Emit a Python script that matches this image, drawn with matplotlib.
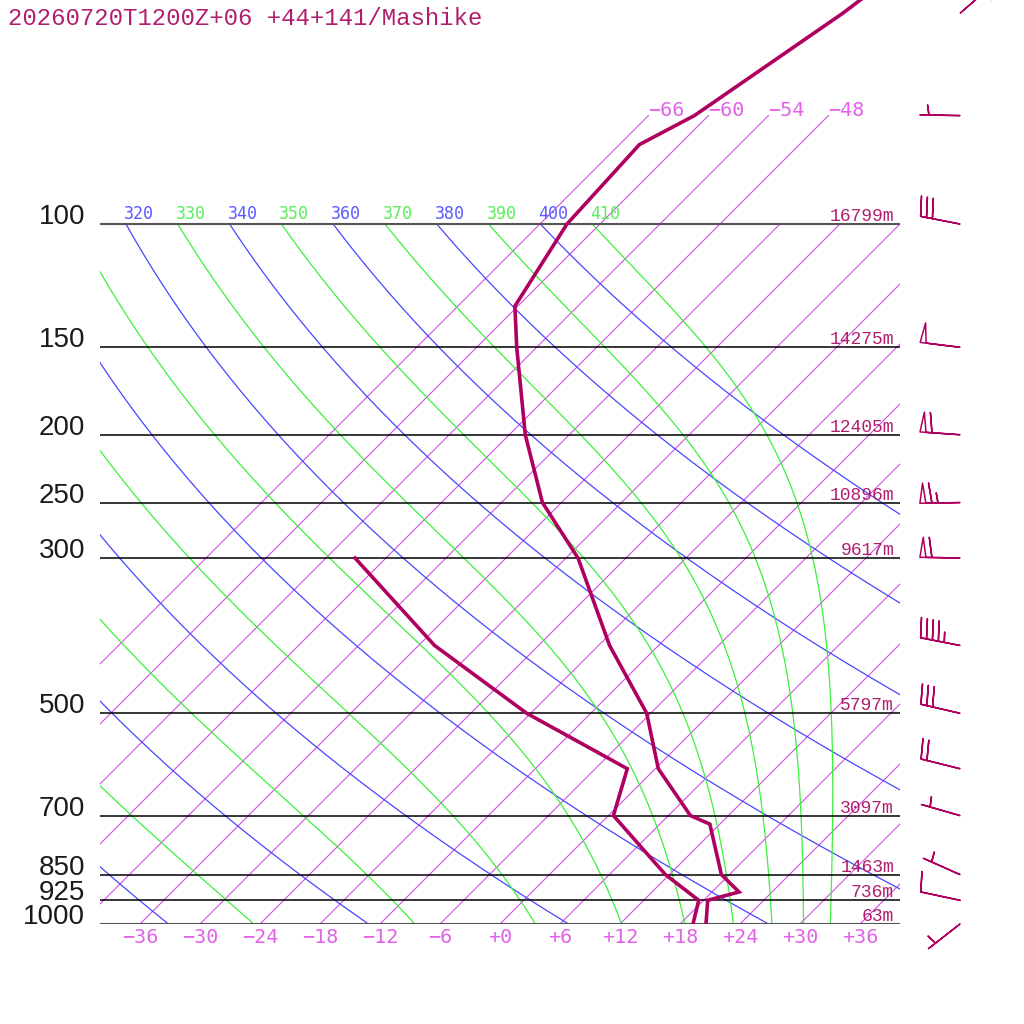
import numpy as np
import matplotlib
matplotlib.use("Agg")
import matplotlib.pyplot as plt
import matplotlib.transforms as mtransforms

# ---------------- data ----------------
title = "20260720T1200Z+06 +44+141/Mashike"

p_temp = [1000, 925, 900, 850, 720, 700, 600, 500, 400, 300, 250, 200, 150, 131, 100, 77, 70, 50, 30]
temp = [20.6, 18.4, 20.7, 17.2, 11.0, 8.2, 0.3, -6.4, -16.9, -28.8, -37.9, -46.4, -56.0, -60.3,
        -63.3, -64.0, -61.4, -56.8, -51.8]

p_dew = [1000, 925, 850, 700, 600, 500, 400, 300]
dew = [19.3, 17.5, 11.6, 0.5, -2.8, -18.4, -34.4, -51.1]

p_levels = [1000, 925, 850, 700, 500, 300, 250, 200, 150, 100]
heights = [63, 736, 1463, 3097, 5797, 9617, 10896, 12405, 14275, 16799]

p_wind = [1000, 925, 850, 700, 600, 500, 400, 300, 250, 200, 150, 100, 70, 50]
wind_dir = [232, 282, 294, 286, 284, 283, 281, 271, 269, 274, 277, 281, 271, 49]
wind_spd = [5, 10, 5, 5, 20, 30, 45, 60, 65, 60, 50, 30, 5, 5]

isotherms = list(range(-66, 37, 6))
isotherms_upper = [-66, -60, -54, -48]
bottom_ticks = list(range(-36, 37, 6))
dry_thetas = list(range(240, 401, 20))
moist_thetas = list(range(250, 411, 20))
labelled_dry = [320, 340, 360, 380, 400]
labelled_moist = [310, 330, 350, 370, 390, 410]

# ---------------- style ----------------
C_SOUND = "#b0005f"
C_TEXT = "#b01e6e"
C_ISO = "#d24ee2"
C_ISO_LBL = "#e262ea"
C_DRY = "#4747ff"
C_DRY_LBL = "#5a5aff"
C_MOIST = "#3cf03c"
C_MOIST_LBL = "#5aee5a"

SKEW = 30.4          # degC shift per unit ln(p)
P0 = 1000.0
KAPPA = 0.2857


def skx(T, p):
    return np.asarray(T, float) + SKEW * np.log(P0 / np.asarray(p, float))


fig = plt.figure(figsize=(10.24, 10.24), dpi=100)
ax = fig.add_axes([100 / 1024, 100 / 1024, 800 / 1024, 924 / 1024])
ax.set_yscale("log")
ptop = P0 * np.exp(-924 / 304)
ax.set_ylim(P0, ptop)
ax.set_xlim(-40, 40)
ax.axis("off")

# isotherms
for T in isotherms:
    pt = 70 if T in isotherms_upper else 100
    ax.plot(skx([T, T], [P0, pt]), [P0, pt], color=C_ISO, lw=0.8)
for T in isotherms_upper:
    ax.text(skx(T, 70), 70, f"{T:d}".replace("-", "\u2212"), color=C_ISO_LBL,
            family="DejaVu Sans Mono", fontsize=14.5, ha="left", va="baseline")

# dry adiabats
pgrid = np.exp(np.linspace(np.log(100), np.log(1000), 200))
for th in dry_thetas:
    T = th * (pgrid / P0) ** KAPPA - 273.15
    ax.plot(skx(T, pgrid), pgrid, color=C_DRY, lw=0.9)

# moist (pseudo) adiabats, integrated downward from 100 hPa
Rd, cp, Lv, eps = 287.04, 1005.7, 2.501e6, 0.622


def es(Tk):
    Tc = Tk - 273.15
    return 6.112 * np.exp(17.67 * Tc / (Tc + 243.5))


def dT_dlnp(Tk, p):
    e = es(Tk)
    r = eps * e / (p - e)
    return (Rd * Tk + Lv * r) / (cp + Lv ** 2 * r * eps / (Rd * Tk ** 2))


th_m = np.array(moist_thetas, float)
Tk = th_m * (100 / P0) ** KAPPA
Tm = [Tk.copy()]
lp = np.log(pgrid)
for i in range(len(pgrid) - 1):
    h = lp[i + 1] - lp[i]
    a, b = lp[i], lp[i] + h / 2
    k1 = dT_dlnp(Tk, np.exp(a))
    k2 = dT_dlnp(Tk + h / 2 * k1, np.exp(b))
    k3 = dT_dlnp(Tk + h / 2 * k2, np.exp(b))
    k4 = dT_dlnp(Tk + h * k3, np.exp(lp[i + 1]))
    Tk = Tk + h / 6 * (k1 + 2 * k2 + 2 * k3 + k4)
    Tm.append(Tk.copy())
Tm = np.array(Tm) - 273.15
for j, th in enumerate(moist_thetas):
    ax.plot(skx(Tm[:, j], pgrid), pgrid, color=C_MOIST, lw=0.9)

# theta labels at 100 hPa (clipped at the left edge of the diagram)
lbl_tr = mtransforms.offset_copy(ax.transData, fig=fig, x=-2, y=5, units="dots")
all_th = sorted([(t, C_DRY_LBL) for t in labelled_dry] +
                [(t, C_MOIST_LBL) for t in labelled_moist])
for th, c in all_th:
    T100 = th * (100 / P0) ** KAPPA - 273.15
    ax.text(skx(T100, 100), 100, f"{th}", color=c, family="DejaVu Sans Mono",
            fontsize=12, ha="left", va="baseline", transform=lbl_tr, clip_on=True)

# pressure lines
for p in p_levels:
    edge = p in (100, 1000)
    ax.axhline(p, color="#555555" if edge else "black", lw=1.5 if edge else 1.1, zorder=3)

blend = mtransforms.blended_transform_factory(ax.transAxes, ax.transData)
plab_tr = mtransforms.offset_copy(blend, fig=fig, x=-15, y=0, units="dots")
hlab_tr = mtransforms.offset_copy(blend, fig=fig, x=-6, y=3, units="dots")
for p, h in zip(p_levels, heights):
    ax.text(0, p, f"{p}", transform=plab_tr, ha="right", va="baseline",
            family="Liberation Sans", fontsize=20, color="#1a1a1a")
    ax.text(1, p, f"{h}m", transform=hlab_tr, ha="right", va="baseline",
            family="Liberation Mono", fontsize=13, color=C_TEXT, zorder=4)

# bottom temperature labels
blab_tr = mtransforms.offset_copy(ax.transData, fig=fig, x=0, y=-19, units="dots")
for T in bottom_ticks:
    ax.text(T, P0, f"{T:+d}".replace("-", "\u2212"), transform=blab_tr, ha="center",
            va="baseline", family="DejaVu Sans Mono", fontsize=14.5, color=C_ISO_LBL)

# sounding
ax.plot(skx(temp, p_temp), p_temp, color=C_SOUND, lw=2.6, solid_joinstyle="miter", zorder=5)
ax.plot(skx(dew, p_dew), p_dew, color=C_SOUND, lw=2.6, solid_joinstyle="miter", zorder=5)

# wind barbs
wd = np.radians(wind_dir)
ws = np.array(wind_spd, float)
u = -ws * np.sin(wd)
v = -ws * np.cos(wd)
ax.barbs(np.full(len(p_wind), 1.075), p_wind, u, v, transform=blend, length=7.6,
         sizes=dict(spacing=0.15, height=0.5, width=0.15, emptybarb=0.0),
         barbcolor=C_SOUND, flagcolor="none", linewidth=1.1, clip_on=False, zorder=6)

# title
fig.text(8 / 1024, 1 - 25 / 1024, title, family="Liberation Mono", fontsize=17.3,
         color=C_TEXT, ha="left", va="baseline")

fig.savefig("out.png", dpi=100)
